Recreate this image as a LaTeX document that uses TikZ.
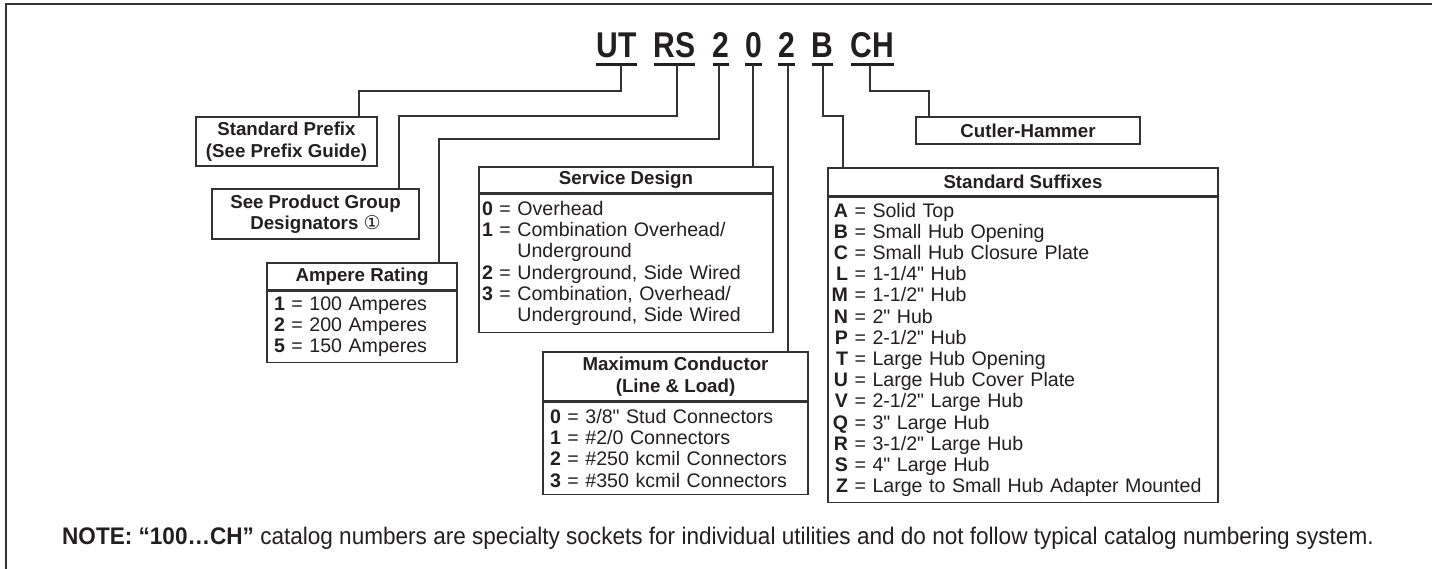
\documentclass[tikz,border=0pt]{standalone}
\usepackage{fontspec}
\setmainfont{Liberation Sans}[Ligatures=TeXOff]
\newfontfamily\codefont{Liberation Sans}[FakeStretch=0.84]
\newfontfamily\notefont{Liberation Sans}[FakeStretch=0.94]
\newfontfamily\symfont{DejaVu Sans}
\newcommand\myltr[1]{\makebox[16.5pt][r]{\textbf{#1}}}
\definecolor{ink}{HTML}{231F20}
\definecolor{rulec}{HTML}{333333}
\begin{document}
\begin{tikzpicture}[x=1pt,y=-1pt,
  conn/.style={draw=rulec,line width=1.5pt},
  uline/.style={draw=ink,line width=3pt},
  hdr/.style={draw=rulec,line width=1.4pt,inner sep=0pt,align=center,text=ink,font=\fontsize{18.7}{21.5}\selectfont\bfseries},
  body/.style={draw=rulec,line width=1.4pt,inner ysep=0pt,align=left,anchor=north west,text=ink,font=\fontsize{19.6}{21.2}\selectfont},
  code/.style={inner sep=0pt,anchor=base,text=ink,font=\codefont\fontsize{35.8}{36}\selectfont\bfseries},
  frame/.style={draw=rulec,line width=2pt}]
\useasboundingbox (0,0) rectangle (1432,569);
\draw[frame] (6,569) -- (6,4.5) -- (1432,4.5);

% catalog code
\node[code] (ut) at (616.5,58) {UT};
\node[code] (rs) at (674.5,58) {RS};
\node[code] (ca) at (720.5,58) {2};
\node[code] (sd) at (753.5,58) {0};
\node[code] (mc) at (786.5,58) {2};
\node[code] (sf) at (822.5,58) {B};
\node[code] (cm) at (872.5,58) {CH};
\draw[uline] ([xshift=-20.5pt,yshift=-7pt]ut.base) -- ([xshift=20.5pt,yshift=-7pt]ut.base);
\draw[uline] ([xshift=-20.5pt,yshift=-7pt]rs.base) -- ([xshift=20.5pt,yshift=-7pt]rs.base);
\draw[uline] ([xshift=-8pt,yshift=-7pt]ca.base) -- ([xshift=8pt,yshift=-7pt]ca.base);
\draw[uline] ([xshift=-8.5pt,yshift=-7pt]sd.base) -- ([xshift=8.5pt,yshift=-7pt]sd.base);
\draw[uline] ([xshift=-8.5pt,yshift=-7pt]mc.base) -- ([xshift=8.5pt,yshift=-7pt]mc.base);
\draw[uline] ([xshift=-10.5pt,yshift=-7pt]sf.base) -- ([xshift=10.5pt,yshift=-7pt]sf.base);
\draw[uline] ([xshift=-21.5pt,yshift=-7pt]cm.base) -- ([xshift=21.5pt,yshift=-7pt]cm.base);
\coordinate (utc) at ([xshift=4.5pt,yshift=-7pt]ut.base);
\coordinate (rsc) at ([xshift=2.5pt,yshift=-7pt]rs.base);
\coordinate (cac) at ([xshift=-1.5pt,yshift=-7pt]ca.base);
\coordinate (sdc) at ([xshift=-0.5pt,yshift=-7pt]sd.base);
\coordinate (mcc) at ([xshift=1.5pt,yshift=-7pt]mc.base);
\coordinate (sfc) at ([xshift=0.5pt,yshift=-7pt]sf.base);
\coordinate (cmc) at ([xshift=-2.5pt,yshift=-7pt]cm.base);

% boxes
\node[hdr,minimum width=181pt,minimum height=49pt] (sp) at (286.5,141.5) {Standard Prefix\\(See Prefix Guide)};
\node[hdr,minimum width=207pt,minimum height=50pt] (pg) at (315.5,214) {See Product Group\\Designators {\symfont\mdseries\fontsize{19}{19}\selectfont\raisebox{0.5pt}{①}}};

\node[hdr,minimum width=190pt,minimum height=27pt] (arh) at (362,276.5) {Ampere Rating};
\node[body,minimum width=190pt,minimum height=71pt,inner xsep=7pt,text width=176pt] (arb) at (arh.south west)
 {\textbf{1} = 100 Amperes\\\textbf{2} = 200 Amperes\\\textbf{5} = 150 Amperes};

\node[hdr,minimum width=294pt,minimum height=26pt] (sdh) at (626,180) {Service Design};
\node[body,minimum width=294pt,minimum height=138pt,inner xsep=3pt,text width=288pt] (sdb) at (sdh.south west)
 {\textbf{0} = Overhead\\
  \textbf{1} = Combination Overhead/\\
  \phantom{\textbf{1} = }Underground\\
  \textbf{2} = Underground, Side Wired\\
  \textbf{3} = Combination, Overhead/\\
  \phantom{\textbf{3} = }Underground, Side Wired};

\node[hdr,minimum width=265pt,minimum height=49pt] (mch) at (675.5,376.5) {Maximum Conductor\\(Line \& Load)};
\node[body,minimum width=265pt,minimum height=92pt,inner xsep=7pt,text width=251pt] (mcb) at (mch.south west)
 {\textbf{0} = 3/8" Stud Connectors\\
  \textbf{1} = \#2/0 Connectors\\
  \textbf{2} = \#250 kcmil Connectors\\
  \textbf{3} = \#350 kcmil Connectors};

\node[hdr,minimum width=224pt,minimum height=27pt] (cmh) at (1028,130.5) {Cutler-Hammer};

\node[hdr,minimum width=390pt,minimum height=28pt] (sfh) at (1023,182) {Standard Suffixes};
\node[body,minimum width=390pt,minimum height=305pt,inner xsep=3.5pt,text width=383pt] (sfb) at (sfh.south west)
 {\myltr{A} = Solid Top\\
  \myltr{B} = Small Hub Opening\\
  \myltr{C} = Small Hub Closure Plate\\
  \myltr{L} = 1-1/4" Hub\\
  \myltr{M} = 1-1/2" Hub\\
  \myltr{N} = 2" Hub\\
  \myltr{P} = 2-1/2" Hub\\
  \myltr{T} = Large Hub Opening\\
  \myltr{U} = Large Hub Cover Plate\\
  \myltr{V} = 2-1/2" Large Hub\\
  \myltr{Q} = 3" Large Hub\\
  \myltr{R} = 3-1/2" Large Hub\\
  \myltr{S} = 4" Large Hub\\
  \myltr{Z} = Large to Small Hub Adapter Mounted};

% connectors
\coordinate (spin) at ([xshift=72.5pt]sp.north);
\draw[conn] (utc) -- (utc |- 0,91) -| (spin);
\coordinate (pgin) at ([xshift=83.5pt]pg.north);
\draw[conn] (rsc) -- (rsc |- 0,116) -| (pgin);
\coordinate (arin) at ([xshift=77pt]arh.north);
\draw[conn] (cac) -- (cac |- 0,139) -| (arin);
\draw[conn] (sdc) -- (sdc |- sdh.north);
\draw[conn] (mcc) -- (mcc |- mch.north);
\coordinate (sfin) at ([xshift=-180pt]sfh.north);
\draw[conn] (sfc) -- (sfc |- 0,116) -| (sfin);
\coordinate (cmin) at ([xshift=-99pt]cmh.north);
\draw[conn] (cmc) -- (cmc |- 0,91) -| (cmin);

% note
\node[anchor=base west,inner sep=0pt,text=ink,font=\notefont\fontsize{24}{24}\selectfont] (note) at (62,544)
 {\textbf{NOTE: “100…CH”} catalog numbers are specialty sockets for individual utilities and do not follow typical catalog numbering system.};
\end{tikzpicture}
\end{document}
